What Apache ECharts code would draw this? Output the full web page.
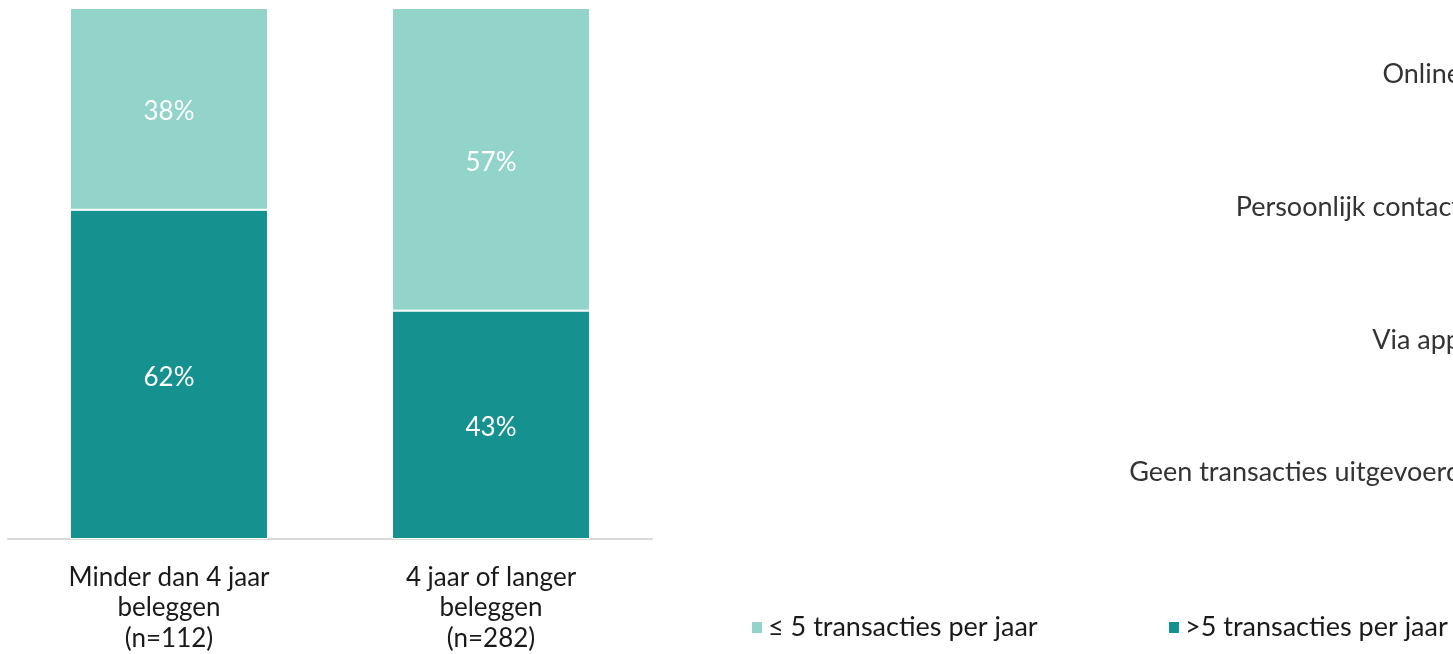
<!DOCTYPE html>
<html><head><meta charset="utf-8">
<script src="https://cdn.jsdelivr.net/npm/echarts@6/dist/echarts.min.js"></script>
<style>html,body{margin:0;padding:0;background:#fff}#c{width:1453px;height:654px}</style>
</head><body><div id="c"></div>
<script>
const categories = ['Minder dan 4 jaar\nbeleggen\n(n=112)', '4 jaar of langer\nbeleggen\n(n=282)'];
const seriesNames = ['≤ 5 transacties per jaar', '>5 transacties per jaar'];
const lowValues = [38, 57];
const highValues = [62, 43];
const rightCategories = ['Online', 'Persoonlijk contact', 'Via app', 'Geen transacties uitgevoerd'];

const FONT = 'Lato';
const legendText = {fontFamily: FONT, fontSize: 27, color: '#1a1a1a'};
const chart = echarts.init(document.getElementById('c'), null, {renderer: 'canvas'});
chart.setOption({
  animation: false,
  textStyle: {fontFamily: FONT},
  legend: [
    {bottom: 8, left: 745, itemWidth: 12, itemHeight: 13, icon: 'rect', itemGap: 0,
     textStyle: legendText, data: [seriesNames[0]]},
    {bottom: 8, left: 1162, itemWidth: 12, itemHeight: 13, icon: 'rect', itemGap: 0,
     textStyle: legendText, data: [seriesNames[1]]}
  ],
  grid: [
    {left: 8, width: 644, top: 8, bottom: 115, outerBoundsMode: 'none', containLabel: false},
    {left: 1470, width: 200, top: 8, bottom: 115, outerBoundsMode: 'none', containLabel: false}
  ],
  xAxis: [
    {type: 'category', gridIndex: 0, data: categories,
     axisLine: {lineStyle: {color: '#d9d9d9', width: 2}}, axisTick: {show: false},
     axisLabel: {fontFamily: FONT, fontSize: 26, color: '#1a1a1a', lineHeight: 30.5, margin: 23, interval: 0}},
    {type: 'value', gridIndex: 1, min: 0, max: 100, show: false}
  ],
  yAxis: [
    {type: 'value', gridIndex: 0, min: 0, max: 100, show: false},
    {type: 'category', gridIndex: 1, inverse: true, data: rightCategories,
     axisLine: {show: false}, axisTick: {show: false}, splitLine: {show: false},
     axisLabel: {fontFamily: FONT, fontSize: 27, color: '#333333', margin: 9}}
  ],
  series: [
    {name: seriesNames[1], type: 'bar', stack: 'a', data: highValues, barWidth: 198,
     xAxisIndex: 0, yAxisIndex: 0,
     itemStyle: {color: '#159290', borderColor: '#fff', borderWidth: 1},
     label: {show: true, position: 'inside', offset: [0, 3], formatter: '{c}%', color: '#fff', fontFamily: FONT, fontSize: 26}},
    {name: seriesNames[0], type: 'bar', stack: 'a', data: lowValues, barWidth: 198,
     xAxisIndex: 0, yAxisIndex: 0,
     itemStyle: {color: '#92D3CA', borderColor: '#fff', borderWidth: 1},
     label: {show: true, position: 'inside', offset: [0, 3], formatter: '{c}%', color: '#fff', fontFamily: FONT, fontSize: 26}}
  ]
});
</script></body></html>
